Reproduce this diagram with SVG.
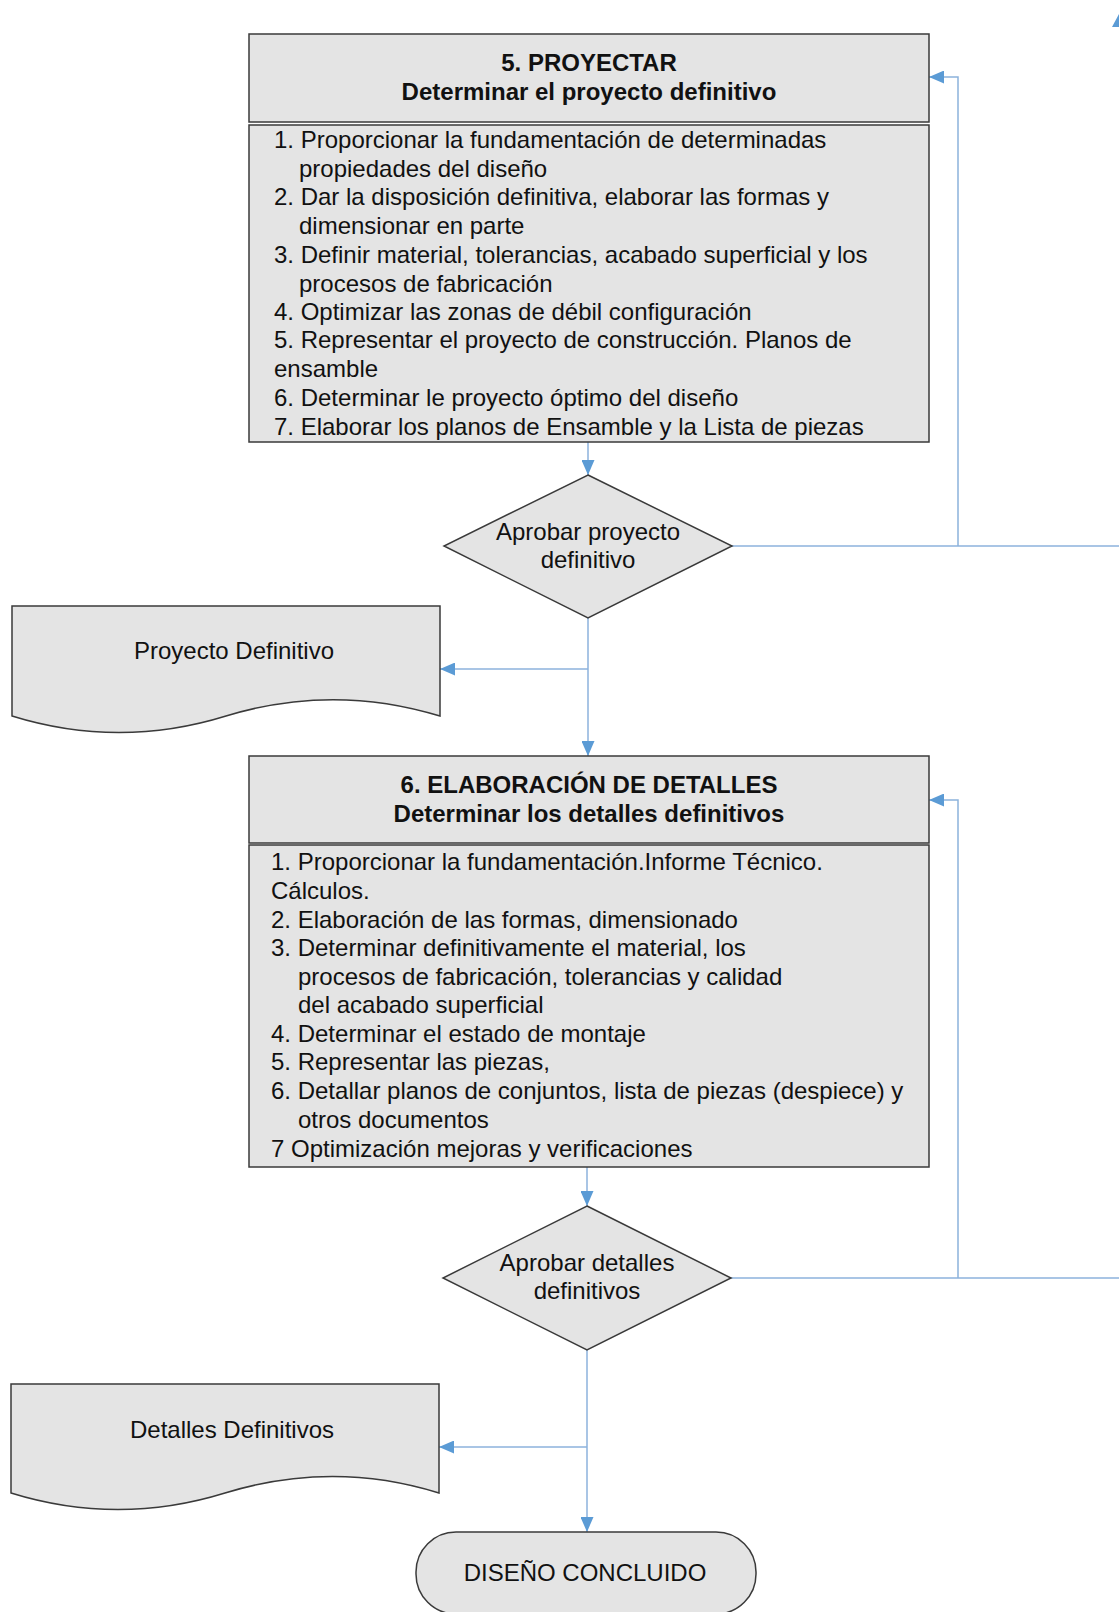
<svg xmlns="http://www.w3.org/2000/svg" width="1119" height="1612" viewBox="0 0 1119 1612">
<defs>
<style>
.box{fill:#e4e4e4;stroke:#3a3a3a;stroke-width:1.5}
.t{font-family:"Liberation Sans",Arial,sans-serif;font-size:24px;fill:#111}
.b{font-weight:bold}
.c{text-anchor:middle}
.ln{fill:none;stroke:#8cb2dc;stroke-width:1.5}
</style>
<marker id="ah" markerUnits="userSpaceOnUse" markerWidth="15" markerHeight="13" refX="15" refY="6.5" orient="auto">
<path d="M0,0 L15,6.5 L0,13 Z" fill="#5b9bd5"/>
</marker>
</defs>
<rect width="1119" height="1612" fill="#ffffff"/>

<g id="connectors">
<path class="ln" d="M588,442 V475" marker-end="url(#ah)"/>
<path class="ln" d="M732,546 H1119"/>
<path class="ln" d="M958,546 V77 H929" marker-end="url(#ah)"/>
<path class="ln" d="M588,618 V756" marker-end="url(#ah)"/>
<path class="ln" d="M588,669 H440" marker-end="url(#ah)"/>
<path class="ln" d="M587,1167 V1206" marker-end="url(#ah)"/>
<path class="ln" d="M731,1278 H1119"/>
<path class="ln" d="M958,1278 V800 H929" marker-end="url(#ah)"/>
<path class="ln" d="M587,1350 V1532" marker-end="url(#ah)"/>
<path class="ln" d="M587,1447 H439" marker-end="url(#ah)"/>
<path d="M1119,14 L1112,27 L1119,27 Z" fill="#5b9bd5"/>
</g>

<g id="box5">
<rect class="box" x="249" y="34" width="680" height="88"/>
<text class="t b c" x="589" y="71">5. PROYECTAR</text>
<text class="t b c" x="589" y="100">Determinar el proyecto definitivo</text>
<rect class="box" x="249" y="125" width="680" height="317"/>
<text class="t" x="274" y="148">1. Proporcionar la fundamentación de determinadas</text>
<text class="t" x="299" y="177">propiedades del diseño</text>
<text class="t" x="274" y="205">2. Dar la disposición definitiva, elaborar las formas y</text>
<text class="t" x="299" y="234">dimensionar en parte</text>
<text class="t" x="274" y="263">3. Definir material, tolerancias, acabado superficial y los</text>
<text class="t" x="299" y="292">procesos de fabricación</text>
<text class="t" x="274" y="320">4. Optimizar las zonas de débil configuración</text>
<text class="t" x="274" y="348">5. Representar el proyecto de construcción. Planos de</text>
<text class="t" x="274" y="377">ensamble</text>
<text class="t" x="274" y="406">6. Determinar le proyecto óptimo del diseño</text>
<text class="t" x="274" y="435">7. Elaborar los planos de Ensamble y la Lista de piezas</text>
</g>

<g id="decision1">
<polygon class="box" points="588,475 732,546 588,618 444,546"/>
<text class="t c" x="588" y="540">Aprobar proyecto</text>
<text class="t c" x="588" y="568">definitivo</text>
</g>

<g id="doc1">
<path class="box" d="M12,606 H440 V716 C368,694 298,694 226,716 C155,738 83,738 12,716 Z"/>
<text class="t c" x="234" y="659">Proyecto Definitivo</text>
</g>

<g id="box6">
<rect class="box" x="249" y="756" width="680" height="87"/>
<text class="t b c" x="589" y="793">6. ELABORACIÓN DE DETALLES</text>
<text class="t b c" x="589" y="822">Determinar los detalles definitivos</text>
<rect class="box" x="249" y="845" width="680" height="322"/>
<text class="t" x="271" y="870">1. Proporcionar la fundamentación.Informe Técnico.</text>
<text class="t" x="271" y="899">Cálculos.</text>
<text class="t" x="271" y="928">2. Elaboración de las formas, dimensionado</text>
<text class="t" x="271" y="956">3. Determinar definitivamente el material, los</text>
<text class="t" x="298" y="985">procesos de fabricación, tolerancias y calidad</text>
<text class="t" x="298" y="1013">del acabado superficial</text>
<text class="t" x="271" y="1042">4. Determinar el estado de montaje</text>
<text class="t" x="271" y="1070">5. Representar las piezas,</text>
<text class="t" x="271" y="1099">6. Detallar planos de conjuntos, lista de piezas (despiece) y</text>
<text class="t" x="298" y="1128">otros documentos</text>
<text class="t" x="271" y="1157">7 Optimización mejoras y verificaciones</text>
</g>

<g id="decision2">
<polygon class="box" points="587,1206 731,1278 587,1350 443,1278"/>
<text class="t c" x="587" y="1271">Aprobar detalles</text>
<text class="t c" x="587" y="1299">definitivos</text>
</g>

<g id="doc2">
<path class="box" d="M11,1384 H439 V1493 C368,1471 297,1471 225,1493 C154,1515 82,1515 11,1493 Z"/>
<text class="t c" x="232" y="1438">Detalles Definitivos</text>
</g>

<g id="end">
<rect class="box" x="416" y="1532" width="340" height="82" rx="40" ry="40"/>
<text class="t c" x="585" y="1581">DISEÑO CONCLUIDO</text>
</g>
</svg>
